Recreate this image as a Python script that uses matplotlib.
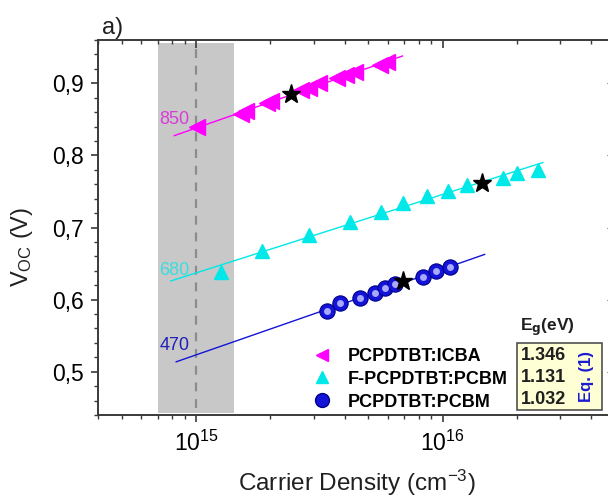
import matplotlib
matplotlib.use('Agg')

import numpy as np
import matplotlib.pyplot as plt
from matplotlib.ticker import FixedLocator, FuncFormatter, LogLocator, NullFormatter
from matplotlib.patches import Rectangle

plt.rcParams['font.family'] = ['Liberation Sans', 'DejaVu Sans']
plt.rcParams['mathtext.default'] = 'regular'

# data
icba_x = [1.01e15, 1.52e15, 1.60e15, 1.93e15, 2.02e15, 2.67e15, 2.88e15, 3.16e15,
          3.74e15, 4.07e15, 4.39e15, 5.55e15, 5.97e15]
icba_v = [0.839, 0.857, 0.861, 0.872, 0.875, 0.890, 0.894, 0.900,
          0.907, 0.911, 0.915, 0.925, 0.929]
fpcbm_x = [1.26e15, 1.85e15, 2.88e15, 4.19e15, 5.6e15, 6.88e15, 8.6e15, 1.05e16,
           1.26e16, 1.75e16, 2.0e16, 2.43e16]
fpcbm_v = [0.638, 0.667, 0.689, 0.707, 0.722, 0.734, 0.743, 0.751,
           0.759, 0.769, 0.776, 0.780]
pcbm_x = [3.38e15, 3.85e15, 4.64e15, 5.3e15, 5.81e15, 6.38e15, 8.3e15, 9.37e15, 1.07e16]
pcbm_v = [0.584, 0.595, 0.602, 0.609, 0.616, 0.621, 0.632, 0.639, 0.645]

star_x = [2.43e15, 1.45e16, 6.88e15]
star_v = [0.885, 0.762, 0.626]

fit_start = [8.15e14, 7.9e14, 8.3e14]
fit_end = [6.87e15, 2.55e16, 1.48e16]

series_names = ['PCPDTBT:ICBA', 'F-PCPDTBT:PCBM', 'PCPDTBT:PCBM']
eg_values = ['1.346', '1.131', '1.032']
side_labels = ['850', '680', '470']
side_label_v = [0.850, 0.640, 0.536]

span_lo, span_hi = 7e14, 1.43e15

c_mag = '#ff00ff'
c_cyan = '#00e8e8'
c_blue = '#1414d8'

fig = plt.figure(figsize=(6.08, 4.97), dpi=100)
ax = fig.add_axes([98/608, 1-415/497, 517/608, 375/497])
ax.set_xscale('log')
ax.set_xlim(4e14, 5e16)
ax.set_ylim(0.44, 0.96)

ax.axvspan(span_lo, span_hi, ymin=0.006, ymax=0.992, color='#c8c8c8', lw=0, zorder=0)
ax.axvline(1e15, ymin=0.02, ymax=0.99, color='#8c8c8c', lw=1.6, ls=(0, (4, 3.5)), zorder=1)

xs_all = [icba_x, fpcbm_x, pcbm_x]
vs_all = [icba_v, fpcbm_v, pcbm_v]
cols = [c_mag, c_cyan, c_blue]
for xs, vs, c, x0, x1 in zip(xs_all, vs_all, cols, fit_start, fit_end):
    b, a = np.polyfit(np.log10(xs), vs, 1)
    lx = np.logspace(np.log10(x0), np.log10(x1), 20)
    ax.plot(lx, a + b*np.log10(lx), color=c, lw=1.0, zorder=2)

ax.plot(icba_x, icba_v, ls='none', marker='<', ms=11, color=c_mag, mec=c_mag, zorder=3)
ax.plot(fpcbm_x, fpcbm_v, ls='none', marker='^', ms=10, color=c_cyan, mec=c_cyan, zorder=3)
ax.plot(pcbm_x, pcbm_v, ls='none', marker='o', ms=11, color=c_blue, mec='#00008a', mew=0.8, zorder=3)
ax.plot(pcbm_x, pcbm_v, ls='none', marker='o', ms=5, mfc='#a8a8ff', mec='none', zorder=3)
ax.plot(star_x, star_v, ls='none', marker='*', ms=14, color='black', zorder=4)

lab_cols = ['#d83cd8', '#3cdcdc', '#2020b8']
for t, v, c in zip(side_labels, side_label_v, lab_cols):
    ax.text(9.4e14, v, t, color=c, fontsize=13, ha='right', va='center', zorder=5)

# axis styling
for s in ax.spines.values():
    s.set_color('#3a3a3a')
    s.set_linewidth(1.4)
ax.yaxis.set_major_locator(FixedLocator([0.5, 0.6, 0.7, 0.8, 0.9]))
ax.yaxis.set_minor_locator(FixedLocator(np.arange(0.44, 0.961, 0.02)))
ax.yaxis.set_major_formatter(FuncFormatter(lambda v, p: ('%.1f' % v).replace('.', ',')))
ax.xaxis.set_major_locator(LogLocator(base=10, numticks=10))
ax.xaxis.set_minor_locator(LogLocator(base=10, subs=np.arange(2, 10), numticks=20))
ax.xaxis.set_minor_formatter(NullFormatter())
ax.tick_params(which='major', direction='out', length=5, width=1.2, color='#3a3a3a',
               labelsize=16.5, pad=5)
ax.tick_params(which='minor', direction='out', length=3, width=1.0, color='#3a3a3a')
ax.tick_params(axis='x', which='major', pad=6)

axt = ax.twiny()
axt.set_xscale('log')
axt.set_xlim(ax.get_xlim())
axt.xaxis.set_minor_locator(LogLocator(base=10, subs=np.arange(2, 10), numticks=20))
axt.tick_params(which='both', direction='in', labeltop=False, color='#3a3a3a')
axt.tick_params(which='major', length=6, width=1.2)
axt.tick_params(which='minor', length=3, width=1.0)
axr = ax.twinx()
axr.set_ylim(ax.get_ylim())
axr.yaxis.set_major_locator(FixedLocator([0.5, 0.6, 0.7, 0.8, 0.9]))
axr.tick_params(which='both', direction='in', labelright=False, length=6, color='#3a3a3a')
for a2 in (axt, axr):
    for s in a2.spines.values():
        s.set_visible(False)

ax.set_xlabel('Carrier Density (cm$^{-3}$)', fontsize=17.5, labelpad=9, color='#202020')
fig.text(22/608, 1-247/497, 'V$_{OC}$ (V)', rotation=90, fontsize=17,
         ha='center', va='center', color='#202020')
fig.text(102/608, 1-28/497, 'a)', fontsize=17, ha='left', va='center', color='#202020')

# legend
handles = [
    plt.Line2D([], [], ls='none', marker='<', ms=8, color=c_mag),
    plt.Line2D([], [], ls='none', marker='^', ms=8, color=c_cyan),
    plt.Line2D([], [], ls='none', marker='o', ms=10, color=c_blue, mec='#00008a'),
]
ax.legend(handles, series_names, loc='upper left', bbox_to_anchor=(313/608, 1-348/497),
          bbox_transform=fig.transFigure, frameon=False, prop={'weight': 'bold', 'size': 13},
          handlelength=1.0, handletextpad=0.9, labelspacing=0.32, borderpad=0,
          borderaxespad=0)

# Eg box
bx0, bx1 = (517-98)/517, (602-98)/517
by0, by1 = (415-410)/375, (415-343)/375
ax.add_patch(Rectangle((bx0, by0), bx1-bx0, by1-by0, transform=ax.transAxes,
                       facecolor='#ffffd6', edgecolor='#505050', lw=1.2, zorder=6))
for i, t in enumerate(eg_values):
    ax.text((521-98)/517, (415-355-22.5*i)/375, t, transform=ax.transAxes,
            fontsize=13, fontweight='bold', color='#202020', ha='left', va='center', zorder=7)
ax.text((587-98)/517, (415-377)/375, 'Eq. (1)', transform=ax.transAxes, rotation=90,
        fontsize=12, fontweight='bold', color='#1a1ad0', ha='center', va='center', zorder=7)
ax.text((547-98)/517, (415-327)/375, r'E$_\mathbf{g}$(eV)', transform=ax.transAxes,
        fontsize=12.5, fontweight='bold', color='#202020', ha='center', va='center', zorder=7)

fig.savefig('out.png', dpi=100)
